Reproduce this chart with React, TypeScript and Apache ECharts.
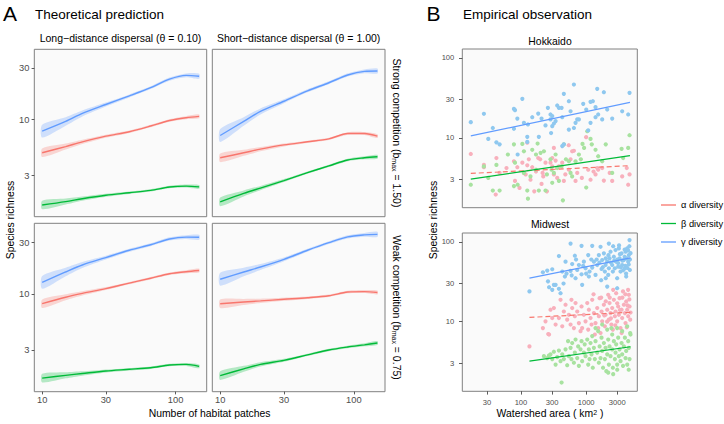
import React, { useEffect, useRef } from "react";
import * as echarts from "echarts";

const FONT = '"Liberation Sans", Arial, Helvetica, sans-serif';

// ---------- Panel A : theoretical prediction ----------
const patches = [10, 15, 20, 30, 45, 65, 90, 120, 150];
const longStrongAlpha = [4.9, 5.6, 6.2, 7.0, 7.7, 8.7, 9.8, 10.4, 10.7];
const longStrongBeta = [1.6, 1.72, 1.83, 1.97, 2.08, 2.19, 2.35, 2.4, 2.36];
const longStrongGamma = [7.8, 9.6, 11.4, 13.8, 16.6, 19.8, 23.8, 25.8, 25.3];
const shortStrongAlpha = [4.4, 4.9, 5.3, 5.8, 6.2, 6.6, 7.4, 7.4, 7.0];
const shortStrongBeta = [1.71, 2.05, 2.3, 2.7, 3.2, 3.7, 4.2, 4.4, 4.5];
const shortStrongGamma = [7.1, 9.6, 11.9, 14.8, 18.5, 22.0, 26.0, 28.1, 28.3];
const longWeakAlpha = [8.1, 9.3, 10.1, 11.2, 12.6, 14.0, 15.4, 16.1, 16.5];
const longWeakBeta = [1.64, 1.74, 1.81, 1.91, 1.98, 2.05, 2.17, 2.2, 2.11];
const longWeakGamma = [12.8, 16.0, 18.6, 21.8, 25.5, 28.7, 32.5, 33.8, 33.7];
const shortWeakAlpha = [8.1, 8.4, 8.6, 8.9, 9.2, 9.6, 10.4, 10.5, 10.3];
const shortWeakBeta = [1.73, 2.0, 2.2, 2.4, 2.7, 3.0, 3.2, 3.35, 3.48];
const shortWeakGamma = [13.7, 16.0, 17.8, 21.0, 25.5, 30.0, 34.0, 35.5, 35.9];
// confidence band half-widths (log10 units)
const ciAlpha = [0.04, 0.028, 0.02, 0.014, 0.011, 0.011, 0.012, 0.014, 0.018];
const ciBeta = [0.04, 0.028, 0.02, 0.014, 0.011, 0.011, 0.012, 0.014, 0.018];
const ciGamma = [0.06, 0.04, 0.028, 0.018, 0.014, 0.013, 0.015, 0.018, 0.024];

const aXTicks = [10, 30, 100];
const aYTicks = [3, 10, 30];

// ---------- Panel B : empirical observation ----------
const bXTicks = [30, 100, 300, 1000, 3000];
const bYTicks = [3, 10, 30, 100];

const hokkaidoGamma = [
  [17, 15.7], [27, 20], [37, 13.3], [31.5, 9.7], [42, 8.8], [47, 8.3], [78, 23], [81, 22.2], [105, 30.7],
  [88, 17.4], [111, 15.4], [128, 14.7], [78, 13], [89, 6.2], [125, 10.3], [125, 8.9], [149, 18.1], [184, 20.1],
  [188, 10.3], [207, 17.4], [238, 14.3], [259, 23.7], [284, 19.6], [284, 17], [302, 18.7], [302, 14], [290, 11.5],
  [320, 15.1], [340, 16.2], [360, 25.4], [382, 23.7], [420, 23.7], [430, 18.1], [430, 7.9], [455, 35.5], [455, 8.3],
  [543, 28.7], [577, 21.5], [649, 46.4], [543, 12.7], [688, 15.4], [730, 17], [774, 17], [902, 26.6], [1003, 22.6],
  [1076, 12.4], [1168, 28.2], [1268, 28.7], [1393, 24.2], [1479, 41], [1531, 19.6], [1393, 18.1], [1871, 37.2],
  [1763, 17], [2511, 17.4], [3573, 21.5], [4418, 19.6], [4634, 36.5], [2105, 22.6], [1168, 15.4], [649, 13.3],
];
const hokkaidoAlpha = [
  [17, 6.3], [27, 4.6], [27, 4.3], [42, 5.6], [41, 1.96], [47, 3.65], [60, 4.2], [78, 5.1], [81, 2.9], [88, 4.3],
  [95, 2.37], [105, 4.9], [111, 3.65], [118, 3.5], [125, 4.55], [125, 8.7], [132, 5.4], [140, 3.0], [149, 4.3],
  [160, 2.15], [170, 3.8], [184, 5.6], [197, 5.4], [207, 2.66], [215, 3.65], [220, 3.3], [238, 4.9], [250, 2.15],
  [284, 4.9], [302, 4.4], [302, 5.6], [320, 7.5], [320, 3.5], [340, 5.2], [360, 3.16], [382, 4.4], [430, 4.9],
  [455, 2.9], [480, 3.5], [540, 8.1], [543, 4.0], [577, 5.4], [610, 6.8], [649, 6.9], [688, 2.9], [730, 3.65],
  [860, 3.16], [1000, 10.2], [1076, 4.0], [1168, 3.0], [1300, 3.8], [1393, 3.5], [1479, 4.2], [1531, 4.0],
  [1763, 4.2], [1871, 2.93], [2300, 3.65], [2511, 2.9], [3573, 3.3], [4200, 4.2], [4418, 2.6], [4634, 3.5],
];
const hokkaidoBeta = [
  [17, 2.6], [27, 4.4], [31.5, 3.16], [37, 2.2], [47, 2.2], [42, 4.6], [78, 8.3], [78, 2.5], [81, 4.9], [89, 2.6],
  [105, 8.4], [111, 3.65], [125, 2.2], [128, 1.74], [140, 3.3], [149, 7.1], [170, 4.0], [180, 8.5], [188, 2.2],
  [200, 6.5], [225, 6.8], [238, 2.2], [250, 3.5], [284, 5.4], [295, 4.0], [302, 2.75], [320, 3.65], [340, 6.2],
  [360, 4.2], [382, 2.9], [420, 4.4], [440, 1.66], [455, 8.3], [490, 5.4], [543, 5.1], [577, 3.65], [610, 3.3],
  [688, 5.1], [774, 6.2], [830, 5.4], [880, 8.4], [930, 7.5], [1003, 2.4], [1040, 12.1], [1168, 9.7], [1220, 8.3],
  [1393, 7.1], [1531, 5.9], [1763, 5.1], [2000, 8.3], [2511, 3.65], [3500, 7.3], [4418, 7.5], [4634, 10.8],
  [3700, 5.6], [170, 6.2], [111, 6.8], [63, 6.2],
];
const midwestGamma = [
  [135, 23.9], [217, 41.5], [253, 43.6], [302, 45.3], [340, 28.9], [302, 25], [382, 25.8], [405, 22.7], [382, 66.3],
  [430, 42.4], [472, 36.7], [483, 56.4], [577, 95], [577, 43.2], [611, 52.7], [671, 66.9], [688, 35], [730, 44.4],
  [774, 51.2], [850, 89], [850, 39.2], [923, 56.4], [979, 46.6], [1076, 68.2], [1101, 36.7], [1127, 42.4],
  [1239, 89], [1239, 47.5], [1315, 56.4], [1393, 38.5], [1479, 51.2], [1567, 68.2], [1663, 86.6], [1722, 45.7],
  [1763, 59.1], [1871, 71.6], [1938, 42.4], [1985, 51.2], [2105, 56.4], [2182, 38.5], [2233, 95], [2233, 46.6],
  [2286, 62], [2367, 75.1], [2511, 51.2], [2570, 42.4], [2663, 65], [2760, 46.6], [2825, 78.8], [2890, 56.4],
  [2994, 35], [3103, 48.8], [3177, 82.6], [3256, 62], [3373, 42.4], [3497, 71.6], [3573, 51.2], [3793, 59.1],
  [3932, 46.6], [4022, 75.1], [4117, 36.7], [4270, 82.6], [4418, 56.4], [4525, 68.2], [4634, 105], [4688, 44.4],
  [2994, 26.2], [2105, 27.5], [869, 28.9], [320, 28.9], [3000, 60], [3300, 70], [3600, 58], [3900, 65], [4200, 62],
  [4500, 52], [4700, 60], [2400, 55], [2700, 58], [3100, 54], [3400, 48], [3700, 44], [4000, 50], [4300, 47],
  [4800, 72], [2000, 62], [1800, 48], [1600, 55], [1450, 60], [2200, 68], [1200, 60], [1000, 40], [900, 50],
  [700, 60], [600, 38], [500, 40], [450, 30], [260, 32], [270, 27], [3900, 80], [4600, 88], [4400, 78], [3200, 90],
  [2600, 88], [2000, 35], [1700, 33], [4100, 40],
];
const midwestAlpha = [
  [262, 7.0], [284, 14.1], [302, 11.1], [320, 14.8], [340, 9.2], [382, 11.1], [405, 18.8], [430, 8.75], [455, 13.4],
  [483, 16.3], [512, 10.6], [543, 12.2], [577, 9.2], [595, 18.8], [611, 14.8], [649, 8.3], [671, 11.7], [688, 17.1],
  [730, 13.4], [774, 9.6], [820, 7.6], [850, 15.5], [869, 8.3], [923, 12.2], [979, 10.1], [1040, 17.1], [1076, 7.95],
  [1101, 14.1], [1168, 11.1], [1210, 9.2], [1239, 18.8], [1315, 12.8], [1360, 6.9], [1393, 9.6], [1479, 14.8],
  [1531, 8.3], [1567, 11.7], [1610, 19.7], [1663, 7.2], [1722, 13.4], [1763, 10.1], [1871, 16.3], [1938, 8.75],
  [1985, 12.2], [2105, 14.1], [2182, 21.7], [2233, 10.6], [2286, 17.1], [2367, 12.8], [2440, 9.2], [2511, 14.8],
  [2570, 7.95], [2663, 18.8], [2760, 11.7], [2825, 13.4], [2890, 22.7], [2994, 10.1], [3103, 15.5], [3177, 12.2],
  [3256, 19.7], [3373, 8.3], [3497, 14.1], [3573, 11.1], [3680, 23.9], [3793, 16.3], [3932, 12.8], [4022, 9.6],
  [4117, 17.9], [4270, 14.1], [4418, 11.7], [4525, 21.7], [4634, 15.5], [4740, 10.6], [217, 8.3], [238, 10.1],
  [270, 6.9], [2000, 18], [2300, 20], [2600, 25], [3000, 17], [3300, 14], [3600, 20], [4000, 22], [4300, 16],
  [4600, 19], [4800, 13], [2800, 9], [3500, 7.2], [4200, 8.5], [1900, 12], [1300, 22], [1700, 20], [2100, 10],
  [2400, 11], [4400, 25], [135, 4.9],
];
const midwestBeta = [
  [225, 3.7], [253, 3.5], [268, 3.75], [284, 3.9], [302, 3.4], [320, 4.2], [340, 2.9], [360, 3.6], [382, 4.35],
  [405, 3.2], [420, 1.73], [430, 3.9], [455, 3.4], [483, 4.5], [512, 2.85], [528, 5.7], [543, 3.7], [577, 4.7],
  [595, 3.4], [611, 5.4], [649, 3.06], [671, 4.1], [688, 5.97], [730, 3.5], [755, 4.9], [774, 2.8], [820, 4.5],
  [850, 5.7], [869, 3.2], [923, 4.1], [950, 5.2], [979, 3.7], [1040, 5.97], [1076, 2.9], [1101, 4.5], [1127, 3.4],
  [1168, 5.4], [1210, 3.9], [1239, 6.6], [1265, 2.65], [1315, 4.7], [1360, 3.4], [1393, 5.7], [1479, 4.1],
  [1531, 7.6], [1567, 3.06], [1610, 4.9], [1663, 3.5], [1722, 6.3], [1763, 4.3], [1817, 2.65], [1871, 5.4],
  [1938, 3.4], [1985, 4.7], [2040, 2.4], [2105, 3.9], [2182, 5.97], [2233, 2.9], [2286, 4.9], [2367, 3.7],
  [2440, 8.3], [2511, 4.5], [2570, 2.65], [2663, 5.7], [2760, 3.4], [2825, 4.1], [2890, 5.2], [2994, 2.9],
  [3103, 6.3], [3177, 3.7], [3256, 4.5], [3373, 3.2], [3497, 5.4], [3573, 3.9], [3680, 2.8], [3793, 4.9],
  [3932, 6.3], [4022, 3.5], [4117, 4.3], [4270, 2.9], [4418, 5.7], [4525, 4.7], [4634, 3.4], [4740, 7.2],
  [1763, 9.2], [2105, 7.95], [2511, 6.9], [2994, 8.3], [3573, 7.6], [4270, 8.75], [4797, 6.9], [1393, 8.3],
  [2182, 2.3], [3000, 2.5], [4500, 2.5], [2600, 2.2],
];
// linear-model fits (log-log)
const hokkaidoFitArea = [17, 4700];
const hokkaidoFitAlpha = [3.6, 4.5];
const hokkaidoFitBeta = [3.05, 6.0];
const hokkaidoFitGamma = [10.6, 27.8];
const midwestFitArea = [135, 4800];
const midwestFitAlpha = [11.3, 13.1];
const midwestFitBeta = [3.2, 4.85];
const midwestFitGamma = [35, 63];

const RED = "#F8766D";
const GREEN = "#00BA38";
const BLUE = "#619CFF";
const PT_RED = "#F8B0BC";
const PT_GREEN = "#A8E2A0";
const PT_BLUE = "#8FC8EF";

const L = (v: number) => Math.log10(v);
const fmt = (v: number) => String(Math.round(Math.pow(10, v)));

function buildOption() {
  const gridStyle = { show: true, backgroundColor: "#FAFAFA", borderColor: "#808080", borderWidth: 1, containLabel: false, outerBoundsMode: "none" };
  const grids = [
    { left: 34.3, top: 49.3, width: 172.4, height: 167.4 },
    { left: 212.3, top: 49.3, width: 172.7, height: 167.4 },
    { left: 34.3, top: 223.3, width: 172.4, height: 168.4 },
    { left: 212.3, top: 223.3, width: 172.7, height: 168.4 },
    { left: 462.3, top: 49, width: 175, height: 158.7 },
    { left: 462.3, top: 233, width: 175, height: 158.3 },
  ].map((g) => ({ ...g, ...gridStyle }));

  const tickStyle = { color: "#333333", width: 0.8 };
  const mkAxis = (gi: number, min: number, max: number, ticks: number[], show: boolean, fs: number, margin: number, tlen: number) => ({
    type: "value",
    gridIndex: gi,
    min,
    max,
    axisLine: { show: false },
    splitLine: { show: false },
    axisTick: { show, length: tlen, lineStyle: tickStyle, customValues: ticks.map(L) },
    axisLabel: { show, customValues: ticks.map(L), formatter: fmt, color: "#4D4D4D", fontSize: fs, fontFamily: FONT, margin },
  });

  const xAxis = [
    mkAxis(0, 0.941, 2.233, aXTicks, false, 9.3, 4, 2.7),
    mkAxis(1, 0.941, 2.233, aXTicks, false, 9.3, 4, 2.7),
    mkAxis(2, 0.941, 2.233, aXTicks, true, 9.3, 4, 2.7),
    mkAxis(3, 0.941, 2.233, aXTicks, true, 9.3, 4, 2.7),
    mkAxis(4, 1.1, 3.785, bXTicks, false, 7.6, 7, 3.3),
    mkAxis(5, 1.1, 3.785, bXTicks, true, 7.6, 7, 3.3),
  ];
  const yAxis = [
    mkAxis(0, 0.095, 1.654, aYTicks, true, 9.3, 5, 2.7),
    mkAxis(1, 0.095, 1.654, aYTicks, false, 9.3, 5, 2.7),
    mkAxis(2, 0.088, 1.658, aYTicks, true, 9.3, 5, 2.7),
    mkAxis(3, 0.088, 1.658, aYTicks, false, 9.3, 5, 2.7),
    mkAxis(4, 0.128, 2.11, bYTicks, true, 7.6, 8, 3.3),
    mkAxis(5, 0.128, 2.11, bYTicks, true, 7.6, 8, 3.3),
  ];

  const series: any[] = [];
  const panelsA = [
    [longStrongAlpha, longStrongBeta, longStrongGamma],
    [shortStrongAlpha, shortStrongBeta, shortStrongGamma],
    [longWeakAlpha, longWeakBeta, longWeakGamma],
    [shortWeakAlpha, shortWeakBeta, shortWeakGamma],
  ];
  const colsA = [RED, GREEN, BLUE];
  const cis = [ciAlpha, ciBeta, ciGamma];
  panelsA.forEach((trio, gi) => {
    trio.forEach((ys, k) => {
      const ci = cis[k];
      const color = colsA[k];
      series.push({
        type: "custom",
        xAxisIndex: gi,
        yAxisIndex: gi,
        silent: true,
        z: 2,
        data: [[L(patches[0]), L(ys[0])]],
        renderItem: (_params: any, api: any) => {
          const up = patches.map((x, i) => api.coord([L(x), L(ys[i]) + ci[i]]));
          const lo = patches.map((x, i) => api.coord([L(x), L(ys[i]) - ci[i]])).reverse();
          return {
            type: "polygon",
            shape: { points: up.concat(lo), smooth: 0.25 },
            style: { fill: color, opacity: 0.28 },
          };
        },
      });
    });
    trio.forEach((ys, k) => {
      series.push({
        type: "line", xAxisIndex: gi, yAxisIndex: gi, symbol: "none", smooth: 0.3, silent: true, z: 4,
        lineStyle: { color: colsA[k], width: 1.4 },
        data: patches.map((x, i) => [L(x), L(ys[i])]),
      });
    });
  });

  const scat = (gi: number, pts: number[][], color: string, name: string) => ({
    type: "scatter", name, xAxisIndex: gi, yAxisIndex: gi, symbolSize: 4.2, silent: true,
    itemStyle: { color, opacity: 1 },
    data: pts.map(([a, r]) => [L(a), L(r)]),
  });
  series.push(scat(4, hokkaidoAlpha, PT_RED, "h-a"));
  series.push(scat(4, hokkaidoBeta, PT_GREEN, "h-b"));
  series.push(scat(4, hokkaidoGamma, PT_BLUE, "h-g"));
  series.push(scat(5, midwestAlpha, PT_RED, "m-a"));
  series.push(scat(5, midwestBeta, PT_GREEN, "m-b"));
  series.push(scat(5, midwestGamma, PT_BLUE, "m-g"));

  const fit = (gi: number, xs: number[], ys: number[], color: string, name: string, dashed: boolean) => ({
    type: "line", name, xAxisIndex: gi, yAxisIndex: gi, symbol: "none", silent: true, z: 5,
    color,
    itemStyle: { color },
    lineStyle: { color, width: 1.2, type: dashed ? [5, 3] : "solid" },
    data: xs.map((x, i) => [L(x), L(ys[i])]),
  });
  series.push(fit(4, hokkaidoFitArea, hokkaidoFitAlpha, RED, "α diversity", true));
  series.push(fit(4, hokkaidoFitArea, hokkaidoFitBeta, GREEN, "β diversity", false));
  series.push(fit(4, hokkaidoFitArea, hokkaidoFitGamma, BLUE, "γ diversity", false));
  series.push(fit(5, midwestFitArea, midwestFitAlpha, RED, "α diversity", true));
  series.push(fit(5, midwestFitArea, midwestFitBeta, GREEN, "β diversity", false));
  series.push(fit(5, midwestFitArea, midwestFitGamma, BLUE, "γ diversity", false));

  const txt = (text: string, x: number, y: number, fontSize: number, align: string, extra: any = {}) => ({
    type: "text",
    x,
    y,
    rotation: extra.rotation || 0,
    silent: true,
    style: {
      text,
      fontSize,
      fontFamily: FONT,
      fill: extra.fill || "#000",
      textAlign: align,
      align,
      textVerticalAlign: "middle",
      verticalAlign: "middle",
      rich: extra.rich,
    },
  });
  const subRich = { sub: { fontSize: 7, fontFamily: FONT, fill: "#000", verticalAlign: "bottom" } };
  const supRich = { sup: { fontSize: 7, fontFamily: FONT, fill: "#000", verticalAlign: "top" } };

  const graphic = [
    txt("A", 3, 13, 21, "left"),
    txt("Theoretical prediction", 35, 14, 13.5, "left"),
    txt("B", 426.5, 13, 21, "left"),
    txt("Empirical observation", 463, 14, 13.5, "left"),
    txt("Long\u2212distance dispersal (\u03b8 = 0.10)", 120.5, 37.5, 10.5, "center"),
    txt("Short\u2212distance dispersal (\u03b8 = 1.00)", 298.6, 37.5, 10.5, "center"),
    txt("Strong competition (b{sub|max} = 1.50)", 396.5, 133, 10.5, "center", { rotation: -Math.PI / 2, rich: subRich }),
    txt("Weak competition (b{sub|max} = 0.75)", 396.5, 307.5, 10.5, "center", { rotation: -Math.PI / 2, rich: subRich }),
    txt("Species richness", 10.5, 220, 10.4, "center", { rotation: Math.PI / 2 }),
    txt("Species richness", 433.5, 220, 10.4, "center", { rotation: Math.PI / 2 }),
    txt("Number of habitat patches", 209.6, 413.5, 10.4, "center"),
    txt("Watershed area ( km{sup|2} )", 550, 413.5, 10.4, "center", { rich: supRich }),
    txt("Hokkaido", 550, 41, 10.4, "center"),
    txt("Midwest", 550, 224.5, 10.4, "center"),
  ];

  return {
    animation: false,
    backgroundColor: "#FFFFFF",
    grid: grids,
    xAxis,
    yAxis,
    series,
    graphic,
    legend: {
      data: ["α diversity", "β diversity", "γ diversity"],
      orient: "vertical",
      left: 656,
      top: 194,
      icon: "rect",
      itemWidth: 15,
      itemHeight: 1.3,
      itemGap: 6.5,
      selectedMode: false,
      textStyle: { fontSize: 9.3, color: "#000", fontFamily: FONT, lineHeight: 12 },
    },
  };
}

export default function App() {
  const ref = useRef<HTMLDivElement>(null);
  useEffect(() => {
    if (!ref.current) return;
    const chart = echarts.init(ref.current, null, { renderer: "svg" });
    chart.setOption(buildOption() as any);
    return () => chart.dispose();
  }, []);
  return (
    <div
      ref={ref}
      style={{ position: "fixed", left: 0, top: 0, width: 724, height: 424, background: "#fff" }}
    />
  );
}
